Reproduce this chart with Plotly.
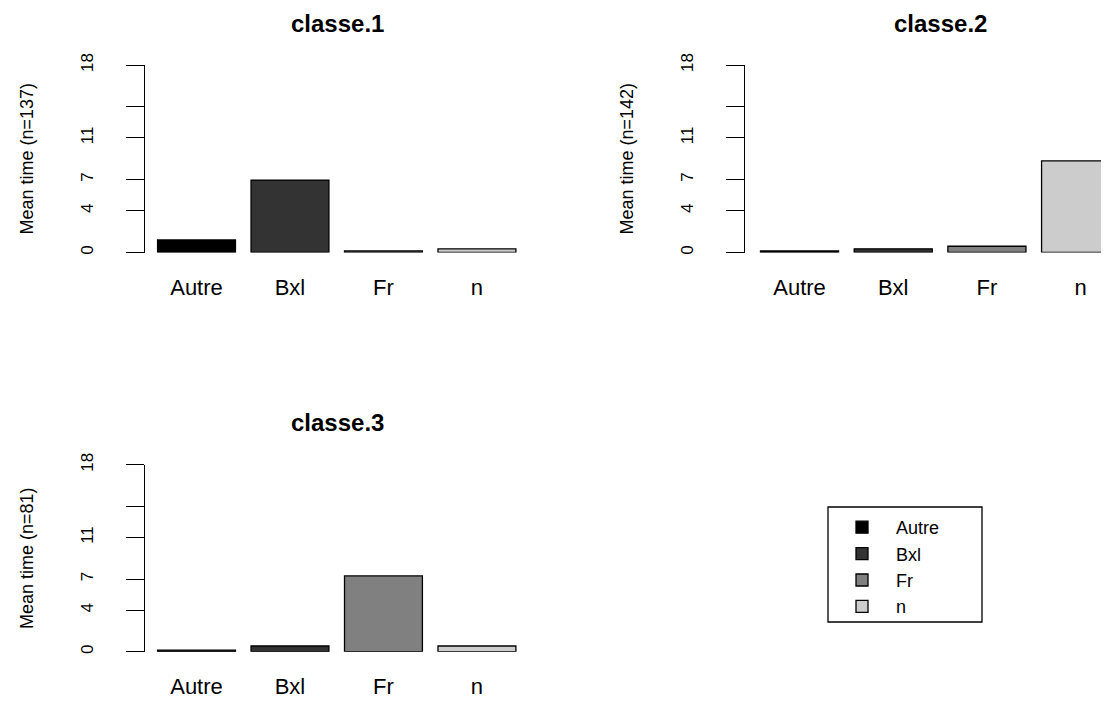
import plotly.graph_objects as go

categories = ["Autre", "Bxl", "Fr", "n"]
panel_titles = ["classe.1", "classe.2", "classe.3"]
panel_n = [137, 142, 81]
values_classe1 = [1.2, 6.95, 0.15, 0.35]
values_classe2 = [0.15, 0.35, 0.6, 8.8]
values_classe3 = [0.15, 0.55, 7.3, 0.55]
bar_colors = ["#000000", "#333333", "#808080", "#cccccc"]
y_tick_values = [0, 4, 7, 11, 14, 18]
y_tick_labels = ["0", "4", "7", "11", "", "18"]

panel_values = [values_classe1, values_classe2, values_classe3]

FONT = "Liberation Sans, Arial, sans-serif"
OFF = 8  # page body margin
W, H = 1109 - OFF, 701 - OFF


def px_x(v):
    return (v - OFF) / W


def px_y(v):
    return 1 - (v - OFF) / H


fig = go.Figure()

axis_suffix = ["", "2", "3"]
for p, vals in enumerate(panel_values):
    for c, cat in enumerate(categories):
        fig.add_trace(go.Bar(
            x=[cat], y=[vals[c]],
            name=cat,
            legendgroup=cat,
            showlegend=(p == 0),
            marker=dict(color=bar_colors[c], line=dict(color="#000000", width=1.3)),
            width=1 / 1.2,
            cliponaxis=False,
            xaxis="x" + axis_suffix[p],
            yaxis="y" + axis_suffix[p],
            hoverinfo="x+y",
        ))

# pixel geometry (left, right, bottom, top) of each plot region in the 1109x701 window
regions = [
    (145, 532, 252.5, 65.0),
    (745, 1109, 252.5, 65.0),
    (145, 532, 651.7, 464.9),
]
x_ranges = [[-0.551, 3.589], [-0.582, 3.303], [-0.551, 3.589]]

# legend frame (left, top, right, bottom) in window pixels
legend_frame = (828, 507, 982, 622)

layout = dict(
    width=W, height=H,
    margin=dict(l=0, r=0, t=0, b=0, autoexpand=False),
    paper_bgcolor="white", plot_bgcolor="white",
    barmode="overlay",
    font=dict(family=FONT, color="black"),
    showlegend=True,
    legend=dict(
        x=px_x(828), y=px_y(509), xanchor="left", yanchor="top",
        borderwidth=0,
        font=dict(family=FONT, size=18, color="black"),
        itemwidth=58, traceorder="normal", tracegroupgap=0,
        bgcolor="rgba(0,0,0,0)",
    ),
    shapes=[dict(
        type="rect", xref="paper", yref="paper",
        x0=px_x(legend_frame[0]), y0=px_y(legend_frame[1]),
        x1=px_x(legend_frame[2]), y1=px_y(legend_frame[3]),
        line=dict(color="black", width=1.3), fillcolor="rgba(0,0,0,0)",
        layer="above",
    )],
    annotations=[],
)

title_pos = [(337, 23), (940, 23), (337, 422)]
for p in range(3):
    l, r, b, t = regions[p]
    xa = dict(
        domain=[px_x(l), min(1.0, px_x(r))], range=x_ranges[p],
        anchor="y" + axis_suffix[p],
        type="category", categoryorder="array", categoryarray=categories,
        showline=False, showgrid=False, zeroline=False, ticks="",
        tickfont=dict(family=FONT, size=22, color="black"),
        ticklabelstandoff=19,
        automargin=False,
        fixedrange=True,
    )
    ya = dict(
        domain=[px_y(b), px_y(t)], range=[0, 18],
        anchor="x" + axis_suffix[p],
        showline=True, linecolor="black", linewidth=1.2,
        showgrid=False, zeroline=False,
        ticks="outside", ticklen=18, tickwidth=1.2, tickcolor="black",
        tickmode="array", tickvals=y_tick_values, ticktext=y_tick_labels,
        tickangle=-90,
        tickfont=dict(family=FONT, size=17, color="black"),
        ticklabelstandoff=26,
        title=dict(text="Mean time (n=%d)" % panel_n[p],
                   font=dict(family=FONT, size=18, color="black"),
                   standoff=39),
        automargin=False,
        fixedrange=True,
    )
    layout["xaxis" + axis_suffix[p]] = xa
    layout["yaxis" + axis_suffix[p]] = ya
    tx, ty = title_pos[p]
    layout["annotations"].append(dict(
        text="<b>%s</b>" % panel_titles[p],
        x=px_x(tx), y=px_y(ty), xref="paper", yref="paper",
        xanchor="center", yanchor="middle", showarrow=False,
        font=dict(family=FONT, size=24, color="black"),
    ))

fig.update_layout(**layout)
fig.write_html("out.html")
